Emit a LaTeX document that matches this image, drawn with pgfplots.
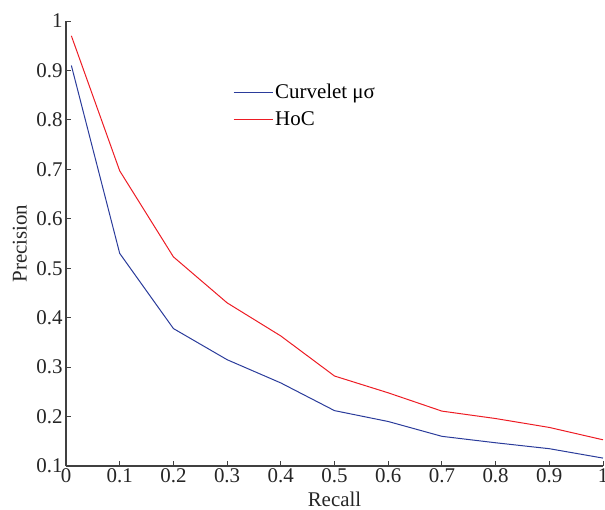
\documentclass[border=0pt]{standalone}
\usepackage{fontspec}
\setmainfont{Liberation Serif}
\usepackage{pgfplots}
\pgfplotsset{compat=1.18}
\definecolor{cblue}{RGB}{43,60,155}
\definecolor{cred}{RGB}{237,28,36}
\definecolor{axgray}{RGB}{64,64,64}
\begin{document}
\begin{tikzpicture}
\begin{axis}[
  scale only axis, width=537bp, height=445bp,
  at={(0,0)}, anchor=south west,
  xmin=0, xmax=1, ymin=0.1, ymax=1,
  axis x line=bottom, axis y line=left,
  axis line style={-, axgray, line width=1.3bp},
  tick style={axgray, line width=1bp},
  tick align=inside, major tick length=5bp,
  xtick={0,0.1,...,1}, ytick={0.1,0.2,...,1},
  xticklabels={0,0.1,0.2,0.3,0.4,0.5,0.6,0.7,0.8,0.9,1},
  yticklabels={0.1,0.2,0.3,0.4,0.5,0.6,0.7,0.8,0.9,1},
  /pgf/number format/assume math mode=true,
  ticklabel style={font=\fontsize{21}{24}\selectfont, text=black!85},
  xticklabel style={yshift=1bp},
  yticklabel style={xshift=0bp},
  label style={font=\fontsize{21}{24}\selectfont, text=black!85},
  xlabel={Recall}, ylabel={Precision},
  xlabel style={at={(axis description cs:0.5,-0.076)}, anchor=center},
  ylabel style={at={(axis description cs:-0.086,0.5)}, anchor=center},
  legend style={at={(axis cs:0.311,0.877)}, anchor=north west, draw=none, fill=none,
    font=\fontsize{21}{24}\selectfont, row sep=8bp, inner sep=0pt},
  legend cell align=left,
  legend image code/.code={\draw[#1] (0bp,0bp) -- (39bp,0bp);},
]
\addplot[cblue, line width=1bp] coordinates {
(0.01,0.91) (0.1,0.53) (0.2,0.378) (0.3,0.315) (0.4,0.268) (0.5,0.212)
(0.6,0.19) (0.7,0.160) (0.8,0.147) (0.9,0.135) (1.0,0.116)};
\addlegendentry{Curvelet μσ}
\addplot[cred, line width=1bp] coordinates {
(0.01,0.97) (0.1,0.697) (0.2,0.523) (0.3,0.43) (0.4,0.363) (0.5,0.282)
(0.6,0.248) (0.7,0.211) (0.8,0.196) (0.9,0.178) (1.0,0.153)};
\addlegendentry{HoC}
\end{axis}
\pgfresetboundingbox
\path (-66bp,-44bp) rectangle (539bp,466bp);
\end{tikzpicture}
\end{document}
